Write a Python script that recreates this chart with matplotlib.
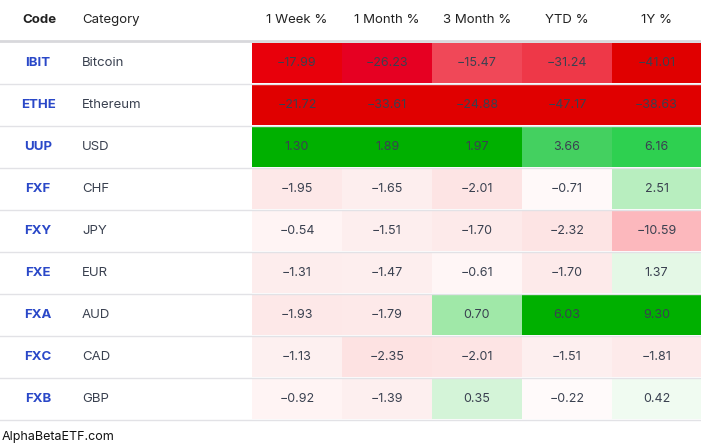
import matplotlib
matplotlib.use('Agg')
import matplotlib.pyplot as plt
from matplotlib.patches import Rectangle

plt.rcParams['font.family'] = ['Inter', 'DejaVu Sans']

codes = ['IBIT', 'ETHE', 'UUP', 'FXF', 'FXY', 'FXE', 'FXA', 'FXC', 'FXB']
categories = ['Bitcoin', 'Ethereum', 'USD', 'CHF', 'JPY', 'EUR', 'AUD', 'CAD', 'GBP']
headers = ['1 Week %', '1 Month %', '3 Month %', 'YTD %', '1Y %']
values = [
    [-17.99, -26.23, -15.47, -31.24, -41.01],
    [-21.72, -33.61, -24.88, -47.17, -38.63],
    [1.30, 1.89, 1.97, 3.66, 6.16],
    [-1.95, -1.65, -2.01, -0.71, 2.51],
    [-0.54, -1.51, -1.70, -2.32, -10.59],
    [-1.31, -1.47, -0.61, -1.70, 1.37],
    [-1.93, -1.79, 0.70, 6.03, 9.30],
    [-1.13, -2.35, -2.01, -1.51, -1.81],
    [-0.92, -1.39, 0.35, -0.22, 0.42],
]

# cell fill colours
cell_colors = [
    ['#e8000b', '#e60022', '#f04858', '#ee3848', '#e00000'],
    ['#e00000', '#e00000', '#e00000', '#e00000', '#e00000'],
    ['#00b000', '#00b000', '#00b000', '#44d060', '#2ed050'],
    ['#fde8e8', '#fdeeee', '#fde4e4', '#fff9f9', '#b8eebf'],
    ['#fff4f4', '#fdeeee', '#fdeaea', '#fde4e4', '#fcb8bd'],
    ['#fdeded', '#fdeeee', '#fff6f6', '#fdeaea', '#e4f8e6'],
    ['#fde8e8', '#fde9e9', '#a0e8a8', '#00b000', '#00b000'],
    ['#fdf0f0', '#fde2e2', '#fde4e4', '#fdefef', '#fdeaea'],
    ['#fff4f4', '#fdefef', '#d4f4d8', '#fffafa', '#f0fbf1'],
]

W, H = 701, 448
fig = plt.figure(figsize=(W / 100, H / 100), dpi=100)
ax = fig.add_axes([0, 0, 1, 1])
ax.set_xlim(0, W)
ax.set_ylim(H, 0)
ax.axis('off')

col_x = [252, 342, 432, 522, 612, 701]
top, row_h = 42, 42
txt = '#3a4150'

# header
ax.text(22, 20, 'Code', fontsize=9.5, fontweight='bold', color='#222', va='center')
ax.text(82, 20, 'Category', fontsize=9.5, color='#222', va='center')
for j, h in enumerate(headers):
    ax.text((col_x[j] + col_x[j + 1]) / 2, 20, h, fontsize=9.5, color='#222',
            ha='center', va='center')
ax.plot([0, W], [top - 1, top - 1], color='#d8d8dc', lw=2)

for i, (c, cat, row) in enumerate(zip(codes, categories, values)):
    y0 = top + i * row_h
    yc = y0 + row_h / 2
    for j, v in enumerate(row):
        ax.add_patch(Rectangle((col_x[j], y0 + 1), col_x[j + 1] - col_x[j], row_h - 2,
                               facecolor=cell_colors[i][j], edgecolor='none'))
        ax.text((col_x[j] + col_x[j + 1]) / 2, yc, f'{v:.2f}'.replace('-', '\u2212'),
                fontsize=9, color=txt, ha='center', va='center')
    ax.text(38, yc, c, fontsize=9.5, fontweight='bold', color='#2a48c8',
            ha='center', va='center')
    ax.text(82, yc, cat, fontsize=9.5, color=txt, va='center')
    ax.plot([0, W], [y0 + row_h, y0 + row_h], color='#e2e2e6', lw=1)

ax.text(2, 437, 'AlphaBetaETF.com', fontsize=9, color='#111', va='center')

fig.savefig('out.png', dpi=100)
plt.close()
